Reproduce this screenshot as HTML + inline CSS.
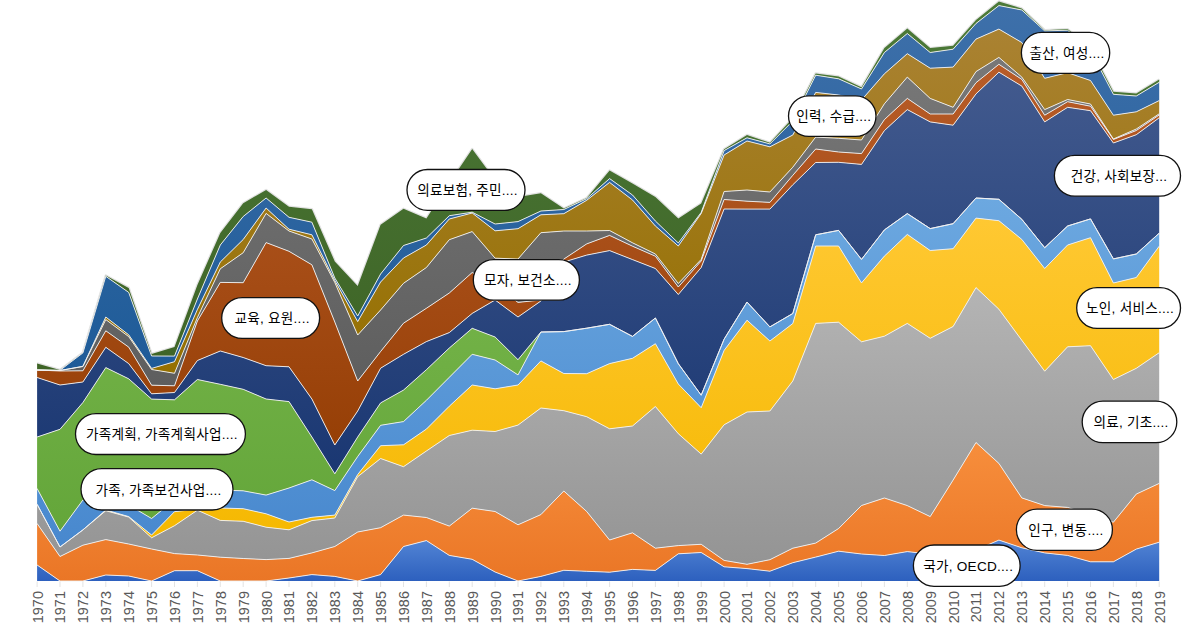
<!DOCTYPE html>
<html lang="ko"><head><meta charset="utf-8"><title>chart</title>
<style>
html,body{margin:0;padding:0;background:#fff;}
body{width:1200px;height:626px;overflow:hidden;}
svg{display:block;}
.yr{font-family:"Liberation Sans","Noto Sans CJK KR",sans-serif;font-size:14.5px;fill:#595959;}
.lb{font-family:"Liberation Sans","Noto Sans CJK KR",sans-serif;font-size:13.6px;font-weight:400;letter-spacing:0.25px;fill:#000;}
</style></head><body>
<svg width="1200" height="626" viewBox="0 0 1200 626">
<defs>
<linearGradient id="g1" x1="0" y1="0" x2="0" y2="1"><stop offset="0" stop-color="#5284d4"/><stop offset="1" stop-color="#2d60be"/></linearGradient>
<linearGradient id="g2" x1="0" y1="0" x2="0" y2="1"><stop offset="0" stop-color="#f78e3c"/><stop offset="1" stop-color="#ea7626"/></linearGradient>
<linearGradient id="g3" x1="0" y1="0" x2="0" y2="1"><stop offset="0" stop-color="#b4b4b4"/><stop offset="1" stop-color="#949494"/></linearGradient>
<linearGradient id="g4" x1="0" y1="0" x2="0" y2="1"><stop offset="0" stop-color="#ffc832"/><stop offset="1" stop-color="#f5b800"/></linearGradient>
<linearGradient id="g5" x1="0" y1="0" x2="0" y2="1"><stop offset="0" stop-color="#6ca8e0"/><stop offset="1" stop-color="#4888ce"/></linearGradient>
<linearGradient id="g6" x1="0" y1="0" x2="0" y2="1"><stop offset="0" stop-color="#7ab84e"/><stop offset="1" stop-color="#64a63a"/></linearGradient>
<linearGradient id="g7" x1="0" y1="0" x2="0" y2="1"><stop offset="0" stop-color="#425a8e"/><stop offset="1" stop-color="#1a3772"/></linearGradient>
<linearGradient id="g8" x1="0" y1="0" x2="0" y2="1"><stop offset="0" stop-color="#b85c28"/><stop offset="1" stop-color="#963f06"/></linearGradient>
<linearGradient id="g9" x1="0" y1="0" x2="0" y2="1"><stop offset="0" stop-color="#787878"/><stop offset="1" stop-color="#5e5e5e"/></linearGradient>
<linearGradient id="g10" x1="0" y1="0" x2="0" y2="1"><stop offset="0" stop-color="#aa8232"/><stop offset="1" stop-color="#957000"/></linearGradient>
<linearGradient id="g11" x1="0" y1="0" x2="0" y2="1"><stop offset="0" stop-color="#3e70aa"/><stop offset="1" stop-color="#1e5b98"/></linearGradient>
<linearGradient id="g12" x1="0" y1="0" x2="0" y2="1"><stop offset="0" stop-color="#4c7a38"/><stop offset="1" stop-color="#3e6426"/></linearGradient>
</defs>
<path d="M37.1 363.5 L60 370 L82.9 352.7 L105.8 275.6 L128.7 287.9 L151.6 353.9 L174.5 347.1 L197.4 285 L220.3 233 L243.2 203.3 L266.1 190 L289 206.8 L311.9 209.2 L334.8 261.5 L357.7 286 L380.6 224.8 L403.5 208.8 L426.4 218.4 L449.3 183 L472.2 149 L495.1 180 L518 197 L540.9 193.2 L563.8 208.6 L586.7 198.1 L609.6 170.6 L632.5 183.5 L655.4 197 L678.3 218.4 L701.2 203.5 L724.1 149.2 L747 134.9 L769.9 142.7 L792.8 118 L815.7 73.4 L838.6 76.5 L861.5 87.2 L884.4 48.1 L907.3 28.6 L930.2 48.1 L953.1 45.8 L976 20.1 L998.9 1.5 L1021.8 8.5 L1044.7 30.2 L1067.6 29.1 L1090.5 48 L1113.4 91.7 L1136.3 93.5 L1159.2 79.4" fill="none" stroke="#e2e2e2" stroke-width="2.4" stroke-linejoin="round"/>
<path d="M37.1 565 L60 581 L82.9 581 L105.8 575 L128.7 576 L151.6 581 L174.5 570.7 L197.4 570.7 L220.3 581 L243.2 581 L266.1 581 L289 578 L311.9 574.6 L334.8 576.4 L357.7 581 L380.6 574.6 L403.5 546.5 L426.4 540.6 L449.3 555.4 L472.2 559.3 L495.1 572 L518 581 L540.9 576.4 L563.8 570.3 L586.7 571.3 L609.6 572.2 L632.5 569.4 L655.4 570.4 L678.3 553.8 L701.2 552.5 L724.1 566.8 L747 568.6 L769.9 571.2 L792.8 562.7 L815.7 557.1 L838.6 551.2 L861.5 554 L884.4 555.5 L907.3 551.6 L930.2 554.2 L953.1 556 L976 550 L998.9 540.1 L1021.8 547.8 L1044.7 552.9 L1067.6 555.4 L1090.5 561.8 L1113.4 561.8 L1136.3 549.1 L1159.2 542.2 L1159.2 581 L1136.3 581 L1113.4 581 L1090.5 581 L1067.6 581 L1044.7 581 L1021.8 581 L998.9 581 L976 581 L953.1 581 L930.2 581 L907.3 581 L884.4 581 L861.5 581 L838.6 581 L815.7 581 L792.8 581 L769.9 581 L747 581 L724.1 581 L701.2 581 L678.3 581 L655.4 581 L632.5 581 L609.6 581 L586.7 581 L563.8 581 L540.9 581 L518 581 L495.1 581 L472.2 581 L449.3 581 L426.4 581 L403.5 581 L380.6 581 L357.7 581 L334.8 581 L311.9 581 L289 581 L266.1 581 L243.2 581 L220.3 581 L197.4 581 L174.5 581 L151.6 581 L128.7 581 L105.8 581 L82.9 581 L60 581 L37.1 581 Z" fill="url(#g1)"/>
<path d="M37.1 523.5 L60 556.5 L82.9 545.2 L105.8 539.6 L128.7 544 L151.6 549 L174.5 553.6 L197.4 555 L220.3 557.2 L243.2 558.5 L266.1 559.6 L289 558.4 L311.9 552.9 L334.8 546.5 L357.7 532 L380.6 527.7 L403.5 515.1 L426.4 517.5 L449.3 526.1 L472.2 508.2 L495.1 511.5 L518 524.8 L540.9 514.6 L563.8 491 L586.7 511.5 L609.6 540 L632.5 532.8 L655.4 548.2 L678.3 545.6 L701.2 544.3 L724.1 560.4 L747 564.3 L769.9 559.7 L792.8 548.2 L815.7 543.1 L838.6 528.5 L861.5 505.5 L884.4 498 L907.3 505.6 L930.2 516.6 L953.1 480.1 L976 442.5 L998.9 463.4 L1021.8 497.9 L1044.7 505.6 L1067.6 507.4 L1090.5 515 L1113.4 522.2 L1136.3 494.1 L1159.2 483.4 L1159.2 542.2 L1136.3 549.1 L1113.4 561.8 L1090.5 561.8 L1067.6 555.4 L1044.7 552.9 L1021.8 547.8 L998.9 540.1 L976 550 L953.1 556 L930.2 554.2 L907.3 551.6 L884.4 555.5 L861.5 554 L838.6 551.2 L815.7 557.1 L792.8 562.7 L769.9 571.2 L747 568.6 L724.1 566.8 L701.2 552.5 L678.3 553.8 L655.4 570.4 L632.5 569.4 L609.6 572.2 L586.7 571.3 L563.8 570.3 L540.9 576.4 L518 581 L495.1 572 L472.2 559.3 L449.3 555.4 L426.4 540.6 L403.5 546.5 L380.6 574.6 L357.7 581 L334.8 576.4 L311.9 574.6 L289 578 L266.1 581 L243.2 581 L220.3 581 L197.4 570.7 L174.5 570.7 L151.6 581 L128.7 576 L105.8 575 L82.9 581 L60 581 L37.1 565 Z" fill="url(#g2)"/>
<path d="M37.1 504.3 L60 547 L82.9 529.9 L105.8 510.7 L128.7 517.1 L151.6 537.8 L174.5 525.7 L197.4 510.2 L220.3 520.4 L243.2 521.3 L266.1 527.2 L289 529.8 L311.9 520.6 L334.8 518 L357.7 476.7 L380.6 458.5 L403.5 466.7 L426.4 451 L449.3 435.5 L472.2 430.2 L495.1 431.5 L518 425.1 L540.9 408 L563.8 410.7 L586.7 416.7 L609.6 428.8 L632.5 426 L655.4 406.5 L678.3 433.7 L701.2 454.1 L724.1 424.8 L747 412 L769.9 411 L792.8 381 L815.7 323.4 L838.6 322.2 L861.5 341.8 L884.4 336.2 L907.3 323.4 L930.2 338.3 L953.1 326.5 L976 287.6 L998.9 309.2 L1021.8 340.3 L1044.7 371.2 L1067.6 346.8 L1090.5 345.7 L1113.4 379.5 L1136.3 368.3 L1159.2 352.7 L1159.2 483.4 L1136.3 494.1 L1113.4 522.2 L1090.5 515 L1067.6 507.4 L1044.7 505.6 L1021.8 497.9 L998.9 463.4 L976 442.5 L953.1 480.1 L930.2 516.6 L907.3 505.6 L884.4 498 L861.5 505.5 L838.6 528.5 L815.7 543.1 L792.8 548.2 L769.9 559.7 L747 564.3 L724.1 560.4 L701.2 544.3 L678.3 545.6 L655.4 548.2 L632.5 532.8 L609.6 540 L586.7 511.5 L563.8 491 L540.9 514.6 L518 524.8 L495.1 511.5 L472.2 508.2 L449.3 526.1 L426.4 517.5 L403.5 515.1 L380.6 527.7 L357.7 532 L334.8 546.5 L311.9 552.9 L289 558.4 L266.1 559.6 L243.2 558.5 L220.3 557.2 L197.4 555 L174.5 553.6 L151.6 549 L128.7 544 L105.8 539.6 L82.9 545.2 L60 556.5 L37.1 523.5 Z" fill="url(#g3)"/>
<path d="M37.1 504.3 L60 547 L82.9 529.9 L105.8 510 L128.7 516.6 L151.6 535 L174.5 511.7 L197.4 509 L220.3 508 L243.2 508.7 L266.1 513.8 L289 522 L311.9 517.3 L334.8 515.1 L357.7 474.5 L380.6 445.7 L403.5 444.8 L426.4 429.1 L449.3 406.2 L472.2 385 L495.1 388.8 L518 385 L540.9 360.9 L563.8 373.5 L586.7 373.7 L609.6 363.6 L632.5 358.3 L655.4 343.7 L678.3 384 L701.2 407.7 L724.1 350.4 L747 320.2 L769.9 341 L792.8 323.5 L815.7 246 L838.6 246 L861.5 282.9 L884.4 256.1 L907.3 234.4 L930.2 250.5 L953.1 248.7 L976 218.1 L998.9 220.7 L1021.8 239.4 L1044.7 268.5 L1067.6 245 L1090.5 237.7 L1113.4 283 L1136.3 277.5 L1159.2 246.2 L1159.2 352.7 L1136.3 368.3 L1113.4 379.5 L1090.5 345.7 L1067.6 346.8 L1044.7 371.2 L1021.8 340.3 L998.9 309.2 L976 287.6 L953.1 326.5 L930.2 338.3 L907.3 323.4 L884.4 336.2 L861.5 341.8 L838.6 322.2 L815.7 323.4 L792.8 381 L769.9 411 L747 412 L724.1 424.8 L701.2 454.1 L678.3 433.7 L655.4 406.5 L632.5 426 L609.6 428.8 L586.7 416.7 L563.8 410.7 L540.9 408 L518 425.1 L495.1 431.5 L472.2 430.2 L449.3 435.5 L426.4 451 L403.5 466.7 L380.6 458.5 L357.7 476.7 L334.8 518 L311.9 520.6 L289 529.8 L266.1 527.2 L243.2 521.3 L220.3 520.4 L197.4 510.2 L174.5 525.7 L151.6 537.8 L128.7 517.1 L105.8 510.7 L82.9 529.9 L60 547 L37.1 504.3 Z" fill="url(#g4)"/>
<path d="M37.1 488.5 L60 531.2 L82.9 500 L105.8 495 L128.7 505 L151.6 518.5 L174.5 500 L197.4 492 L220.3 490 L243.2 490.8 L266.1 495.1 L289 488 L311.9 479.8 L334.8 490.6 L357.7 456.5 L380.6 425.3 L403.5 421.6 L426.4 400.3 L449.3 377.3 L472.2 354.3 L495.1 360 L518 374.9 L540.9 332 L563.8 331.6 L586.7 328.2 L609.6 324.3 L632.5 336.4 L655.4 318 L678.3 363.7 L701.2 395.2 L724.1 339.2 L747 302.1 L769.9 326.9 L792.8 313.5 L815.7 234.8 L838.6 230.4 L861.5 259.4 L884.4 229.9 L907.3 213.6 L930.2 228.6 L953.1 223.7 L976 198 L998.9 199.3 L1021.8 219.3 L1044.7 247.7 L1067.6 226 L1090.5 218.9 L1113.4 258.9 L1136.3 254 L1159.2 233.2 L1159.2 246.2 L1136.3 277.5 L1113.4 283 L1090.5 237.7 L1067.6 245 L1044.7 268.5 L1021.8 239.4 L998.9 220.7 L976 218.1 L953.1 248.7 L930.2 250.5 L907.3 234.4 L884.4 256.1 L861.5 282.9 L838.6 246 L815.7 246 L792.8 323.5 L769.9 341 L747 320.2 L724.1 350.4 L701.2 407.7 L678.3 384 L655.4 343.7 L632.5 358.3 L609.6 363.6 L586.7 373.7 L563.8 373.5 L540.9 360.9 L518 385 L495.1 388.8 L472.2 385 L449.3 406.2 L426.4 429.1 L403.5 444.8 L380.6 445.7 L357.7 474.5 L334.8 515.1 L311.9 517.3 L289 522 L266.1 513.8 L243.2 508.7 L220.3 508 L197.4 509 L174.5 511.7 L151.6 535 L128.7 516.6 L105.8 510 L82.9 529.9 L60 547 L37.1 504.3 Z" fill="url(#g5)"/>
<path d="M37.1 437 L60 429.3 L82.9 402.5 L105.8 367.6 L128.7 378.8 L151.6 399.1 L174.5 399.8 L197.4 379.5 L220.3 384.3 L243.2 389.3 L266.1 399 L289 401.6 L311.9 437 L334.8 473.8 L357.7 437 L380.6 402.9 L403.5 390.1 L426.4 369.7 L449.3 348 L472.2 328.3 L495.1 337 L518 359.7 L540.9 332 L563.8 331.6 L586.7 328.2 L609.6 324.3 L632.5 336.4 L655.4 318 L678.3 363.7 L701.2 395.2 L724.1 339.2 L747 302.1 L769.9 326.9 L792.8 313.5 L815.7 234.8 L838.6 230.4 L861.5 259.4 L884.4 229.9 L907.3 213.6 L930.2 228.6 L953.1 223.7 L976 198 L998.9 199.3 L1021.8 219.3 L1044.7 247.7 L1067.6 226 L1090.5 218.9 L1113.4 258.9 L1136.3 254 L1159.2 233.2 L1159.2 233.2 L1136.3 254 L1113.4 258.9 L1090.5 218.9 L1067.6 226 L1044.7 247.7 L1021.8 219.3 L998.9 199.3 L976 198 L953.1 223.7 L930.2 228.6 L907.3 213.6 L884.4 229.9 L861.5 259.4 L838.6 230.4 L815.7 234.8 L792.8 313.5 L769.9 326.9 L747 302.1 L724.1 339.2 L701.2 395.2 L678.3 363.7 L655.4 318 L632.5 336.4 L609.6 324.3 L586.7 328.2 L563.8 331.6 L540.9 332 L518 374.9 L495.1 360 L472.2 354.3 L449.3 377.3 L426.4 400.3 L403.5 421.6 L380.6 425.3 L357.7 456.5 L334.8 490.6 L311.9 479.8 L289 488 L266.1 495.1 L243.2 490.8 L220.3 490 L197.4 492 L174.5 500 L151.6 518.5 L128.7 505 L105.8 495 L82.9 500 L60 531.2 L37.1 488.5 Z" fill="url(#g6)"/>
<path d="M37.1 377.5 L60 385 L82.9 382 L105.8 347.3 L128.7 363.6 L151.6 393.8 L174.5 392.5 L197.4 360.5 L220.3 351 L243.2 357.5 L266.1 365.7 L289 366.8 L311.9 399 L334.8 445 L357.7 411 L380.6 368.2 L403.5 354.3 L426.4 341.6 L449.3 332.6 L472.2 313.4 L495.1 300 L518 317 L540.9 301 L563.8 262 L586.7 255.1 L609.6 250.6 L632.5 259.6 L655.4 268.5 L678.3 294.5 L701.2 267.5 L724.1 209 L747 209.1 L769.9 209.1 L792.8 184.8 L815.7 162.5 L838.6 162.3 L861.5 164.4 L884.4 130.6 L907.3 109.6 L930.2 121.9 L953.1 125.2 L976 93.9 L998.9 72.2 L1021.8 86.1 L1044.7 121.9 L1067.6 107.3 L1090.5 110.7 L1113.4 143 L1136.3 134.7 L1159.2 117.8 L1159.2 233.2 L1136.3 254 L1113.4 258.9 L1090.5 218.9 L1067.6 226 L1044.7 247.7 L1021.8 219.3 L998.9 199.3 L976 198 L953.1 223.7 L930.2 228.6 L907.3 213.6 L884.4 229.9 L861.5 259.4 L838.6 230.4 L815.7 234.8 L792.8 313.5 L769.9 326.9 L747 302.1 L724.1 339.2 L701.2 395.2 L678.3 363.7 L655.4 318 L632.5 336.4 L609.6 324.3 L586.7 328.2 L563.8 331.6 L540.9 332 L518 359.7 L495.1 337 L472.2 328.3 L449.3 348 L426.4 369.7 L403.5 390.1 L380.6 402.9 L357.7 437 L334.8 473.8 L311.9 437 L289 401.6 L266.1 399 L243.2 389.3 L220.3 384.3 L197.4 379.5 L174.5 399.8 L151.6 399.1 L128.7 378.8 L105.8 367.6 L82.9 402.5 L60 429.3 L37.1 437 Z" fill="url(#g7)"/>
<path d="M37.1 370 L60 371 L82.9 370.8 L105.8 330.8 L128.7 347.1 L151.6 385.2 L174.5 385.8 L197.4 321 L220.3 282.4 L243.2 282.7 L266.1 242.6 L289 251.3 L311.9 264.8 L334.8 322 L357.7 381 L380.6 351.5 L403.5 323.2 L426.4 308.3 L449.3 293 L472.2 272.5 L495.1 285 L518 302.4 L540.9 300 L563.8 259.1 L586.7 243.9 L609.6 235.4 L632.5 246.2 L655.4 256.2 L678.3 287 L701.2 261 L724.1 199.5 L747 201.2 L769.9 202.4 L792.8 175.3 L815.7 149 L838.6 152 L861.5 153.6 L884.4 119.6 L907.3 98.4 L930.2 114 L953.1 114 L976 82.7 L998.9 64.3 L1021.8 79.4 L1044.7 115.2 L1067.6 101.7 L1090.5 106.2 L1113.4 139.5 L1136.3 130.5 L1159.2 115 L1159.2 117.8 L1136.3 134.7 L1113.4 143 L1090.5 110.7 L1067.6 107.3 L1044.7 121.9 L1021.8 86.1 L998.9 72.2 L976 93.9 L953.1 125.2 L930.2 121.9 L907.3 109.6 L884.4 130.6 L861.5 164.4 L838.6 162.3 L815.7 162.5 L792.8 184.8 L769.9 209.1 L747 209.1 L724.1 209 L701.2 267.5 L678.3 294.5 L655.4 268.5 L632.5 259.6 L609.6 250.6 L586.7 255.1 L563.8 262 L540.9 301 L518 317 L495.1 300 L472.2 313.4 L449.3 332.6 L426.4 341.6 L403.5 354.3 L380.6 368.2 L357.7 411 L334.8 445 L311.9 399 L289 366.8 L266.1 365.7 L243.2 357.5 L220.3 351 L197.4 360.5 L174.5 392.5 L151.6 393.8 L128.7 363.6 L105.8 347.3 L82.9 382 L60 385 L37.1 377.5 Z" fill="url(#g8)"/>
<path d="M37.1 370 L60 370.5 L82.9 366.5 L105.8 319.6 L128.7 336.6 L151.6 369.5 L174.5 373.3 L197.4 317.5 L220.3 268.8 L243.2 252.7 L266.1 213.4 L289 231 L311.9 239 L334.8 282.5 L357.7 335 L380.6 310 L403.5 283.3 L426.4 267.5 L449.3 239.7 L472.2 231.6 L495.1 258.2 L518 259 L540.9 232.7 L563.8 231 L586.7 231 L609.6 230.5 L632.5 242.8 L655.4 254 L678.3 283.5 L701.2 259.4 L724.1 191.5 L747 190 L769.9 192 L792.8 167.2 L815.7 137.1 L838.6 138.3 L861.5 140 L884.4 103.8 L907.3 77.1 L930.2 98.4 L953.1 107.3 L976 71.6 L998.9 57.4 L1021.8 77.1 L1044.7 109.6 L1067.6 99.5 L1090.5 104 L1113.4 139 L1136.3 129 L1159.2 113.8 L1159.2 115 L1136.3 130.5 L1113.4 139.5 L1090.5 106.2 L1067.6 101.7 L1044.7 115.2 L1021.8 79.4 L998.9 64.3 L976 82.7 L953.1 114 L930.2 114 L907.3 98.4 L884.4 119.6 L861.5 153.6 L838.6 152 L815.7 149 L792.8 175.3 L769.9 202.4 L747 201.2 L724.1 199.5 L701.2 261 L678.3 287 L655.4 256.2 L632.5 246.2 L609.6 235.4 L586.7 243.9 L563.8 259.1 L540.9 300 L518 302.4 L495.1 285 L472.2 272.5 L449.3 293 L426.4 308.3 L403.5 323.2 L380.6 351.5 L357.7 381 L334.8 322 L311.9 264.8 L289 251.3 L266.1 242.6 L243.2 282.7 L220.3 282.4 L197.4 321 L174.5 385.8 L151.6 385.2 L128.7 347.1 L105.8 330.8 L82.9 370.8 L60 371 L37.1 370 Z" fill="url(#g9)"/>
<path d="M37.1 370 L60 370.5 L82.9 366.3 L105.8 317 L128.7 334.8 L151.6 368.4 L174.5 361.7 L197.4 309.5 L220.3 262 L243.2 239.5 L266.1 208 L289 229.2 L311.9 234.8 L334.8 280.5 L357.7 321.6 L380.6 282 L403.5 258 L426.4 245 L449.3 219 L472.2 213 L495.1 230.8 L518 228.7 L540.9 214.8 L563.8 213.7 L586.7 200.3 L609.6 182.4 L632.5 200 L655.4 226 L678.3 246 L701.2 213.5 L724.1 155 L747 141 L769.9 146.8 L792.8 135 L815.7 92.4 L838.6 95 L861.5 100 L884.4 73.8 L907.3 53.7 L930.2 68.2 L953.1 67.1 L976 39.1 L998.9 29.1 L1021.8 42.5 L1044.7 78.3 L1067.6 72.7 L1090.5 80.5 L1113.4 115.2 L1136.3 111.8 L1159.2 100.6 L1159.2 113.8 L1136.3 129 L1113.4 139 L1090.5 104 L1067.6 99.5 L1044.7 109.6 L1021.8 77.1 L998.9 57.4 L976 71.6 L953.1 107.3 L930.2 98.4 L907.3 77.1 L884.4 103.8 L861.5 140 L838.6 138.3 L815.7 137.1 L792.8 167.2 L769.9 192 L747 190 L724.1 191.5 L701.2 259.4 L678.3 283.5 L655.4 254 L632.5 242.8 L609.6 230.5 L586.7 231 L563.8 231 L540.9 232.7 L518 259 L495.1 258.2 L472.2 231.6 L449.3 239.7 L426.4 267.5 L403.5 283.3 L380.6 310 L357.7 335 L334.8 282.5 L311.9 239 L289 231 L266.1 213.4 L243.2 252.7 L220.3 268.8 L197.4 317.5 L174.5 373.3 L151.6 369.5 L128.7 336.6 L105.8 319.6 L82.9 366.5 L60 370.5 L37.1 370 Z" fill="url(#g10)"/>
<path d="M37.1 370 L60 370.3 L82.9 352.9 L105.8 276.3 L128.7 292.4 L151.6 356 L174.5 356.1 L197.4 299 L220.3 245 L243.2 216.5 L266.1 198 L289 217.3 L311.9 222.2 L334.8 278 L357.7 316 L380.6 274 L403.5 245.5 L426.4 238 L449.3 215.7 L472.2 212.2 L495.1 224 L518 221.6 L540.9 211 L563.8 209.5 L586.7 198.7 L609.6 178.6 L632.5 195 L655.4 221 L678.3 243 L701.2 212.4 L724.1 150.6 L747 137.8 L769.9 143.9 L792.8 121 L815.7 75.2 L838.6 78.8 L861.5 89 L884.4 52.5 L907.3 33.5 L930.2 52.5 L953.1 49.2 L976 23.5 L998.9 5.6 L1021.8 10 L1044.7 30.9 L1067.6 30.2 L1090.5 50.5 L1113.4 94.3 L1136.3 96 L1159.2 82.3 L1159.2 100.6 L1136.3 111.8 L1113.4 115.2 L1090.5 80.5 L1067.6 72.7 L1044.7 78.3 L1021.8 42.5 L998.9 29.1 L976 39.1 L953.1 67.1 L930.2 68.2 L907.3 53.7 L884.4 73.8 L861.5 100 L838.6 95 L815.7 92.4 L792.8 135 L769.9 146.8 L747 141 L724.1 155 L701.2 213.5 L678.3 246 L655.4 226 L632.5 200 L609.6 182.4 L586.7 200.3 L563.8 213.7 L540.9 214.8 L518 228.7 L495.1 230.8 L472.2 213 L449.3 219 L426.4 245 L403.5 258 L380.6 282 L357.7 321.6 L334.8 280.5 L311.9 234.8 L289 229.2 L266.1 208 L243.2 239.5 L220.3 262 L197.4 309.5 L174.5 361.7 L151.6 368.4 L128.7 334.8 L105.8 317 L82.9 366.3 L60 370.5 L37.1 370 Z" fill="url(#g11)"/>
<path d="M37.1 363.5 L60 370 L82.9 352.7 L105.8 275.6 L128.7 287.9 L151.6 353.9 L174.5 347.1 L197.4 285 L220.3 233 L243.2 203.3 L266.1 190 L289 206.8 L311.9 209.2 L334.8 261.5 L357.7 286 L380.6 224.8 L403.5 208.8 L426.4 218.4 L449.3 183 L472.2 149 L495.1 180 L518 197 L540.9 193.2 L563.8 208.6 L586.7 198.1 L609.6 170.6 L632.5 183.5 L655.4 197 L678.3 218.4 L701.2 203.5 L724.1 149.2 L747 134.9 L769.9 142.7 L792.8 118 L815.7 73.4 L838.6 76.5 L861.5 87.2 L884.4 48.1 L907.3 28.6 L930.2 48.1 L953.1 45.8 L976 20.1 L998.9 1.5 L1021.8 8.5 L1044.7 30.2 L1067.6 29.1 L1090.5 48 L1113.4 91.7 L1136.3 93.5 L1159.2 79.4 L1159.2 82.3 L1136.3 96 L1113.4 94.3 L1090.5 50.5 L1067.6 30.2 L1044.7 30.9 L1021.8 10 L998.9 5.6 L976 23.5 L953.1 49.2 L930.2 52.5 L907.3 33.5 L884.4 52.5 L861.5 89 L838.6 78.8 L815.7 75.2 L792.8 121 L769.9 143.9 L747 137.8 L724.1 150.6 L701.2 212.4 L678.3 243 L655.4 221 L632.5 195 L609.6 178.6 L586.7 198.7 L563.8 209.5 L540.9 211 L518 221.6 L495.1 224 L472.2 212.2 L449.3 215.7 L426.4 238 L403.5 245.5 L380.6 274 L357.7 316 L334.8 278 L311.9 222.2 L289 217.3 L266.1 198 L243.2 216.5 L220.3 245 L197.4 299 L174.5 356.1 L151.6 356 L128.7 292.4 L105.8 276.3 L82.9 352.9 L60 370.3 L37.1 370 Z" fill="url(#g12)"/>
<path d="M37.1 565 L60 581 L82.9 581 L105.8 575 L128.7 576 L151.6 581 L174.5 570.7 L197.4 570.7 L220.3 581 L243.2 581 L266.1 581 L289 578 L311.9 574.6 L334.8 576.4 L357.7 581 L380.6 574.6 L403.5 546.5 L426.4 540.6 L449.3 555.4 L472.2 559.3 L495.1 572 L518 581 L540.9 576.4 L563.8 570.3 L586.7 571.3 L609.6 572.2 L632.5 569.4 L655.4 570.4 L678.3 553.8 L701.2 552.5 L724.1 566.8 L747 568.6 L769.9 571.2 L792.8 562.7 L815.7 557.1 L838.6 551.2 L861.5 554 L884.4 555.5 L907.3 551.6 L930.2 554.2 L953.1 556 L976 550 L998.9 540.1 L1021.8 547.8 L1044.7 552.9 L1067.6 555.4 L1090.5 561.8 L1113.4 561.8 L1136.3 549.1 L1159.2 542.2" fill="none" stroke="#f2f2f2" stroke-width="0.9" stroke-linejoin="round"/>
<path d="M37.1 523.5 L60 556.5 L82.9 545.2 L105.8 539.6 L128.7 544 L151.6 549 L174.5 553.6 L197.4 555 L220.3 557.2 L243.2 558.5 L266.1 559.6 L289 558.4 L311.9 552.9 L334.8 546.5 L357.7 532 L380.6 527.7 L403.5 515.1 L426.4 517.5 L449.3 526.1 L472.2 508.2 L495.1 511.5 L518 524.8 L540.9 514.6 L563.8 491 L586.7 511.5 L609.6 540 L632.5 532.8 L655.4 548.2 L678.3 545.6 L701.2 544.3 L724.1 560.4 L747 564.3 L769.9 559.7 L792.8 548.2 L815.7 543.1 L838.6 528.5 L861.5 505.5 L884.4 498 L907.3 505.6 L930.2 516.6 L953.1 480.1 L976 442.5 L998.9 463.4 L1021.8 497.9 L1044.7 505.6 L1067.6 507.4 L1090.5 515 L1113.4 522.2 L1136.3 494.1 L1159.2 483.4" fill="none" stroke="#f2f2f2" stroke-width="0.9" stroke-linejoin="round"/>
<path d="M37.1 504.3 L60 547 L82.9 529.9 L105.8 510.7 L128.7 517.1 L151.6 537.8 L174.5 525.7 L197.4 510.2 L220.3 520.4 L243.2 521.3 L266.1 527.2 L289 529.8 L311.9 520.6 L334.8 518 L357.7 476.7 L380.6 458.5 L403.5 466.7 L426.4 451 L449.3 435.5 L472.2 430.2 L495.1 431.5 L518 425.1 L540.9 408 L563.8 410.7 L586.7 416.7 L609.6 428.8 L632.5 426 L655.4 406.5 L678.3 433.7 L701.2 454.1 L724.1 424.8 L747 412 L769.9 411 L792.8 381 L815.7 323.4 L838.6 322.2 L861.5 341.8 L884.4 336.2 L907.3 323.4 L930.2 338.3 L953.1 326.5 L976 287.6 L998.9 309.2 L1021.8 340.3 L1044.7 371.2 L1067.6 346.8 L1090.5 345.7 L1113.4 379.5 L1136.3 368.3 L1159.2 352.7" fill="none" stroke="#f2f2f2" stroke-width="0.9" stroke-linejoin="round"/>
<path d="M37.1 504.3 L60 547 L82.9 529.9 L105.8 510 L128.7 516.6 L151.6 535 L174.5 511.7 L197.4 509 L220.3 508 L243.2 508.7 L266.1 513.8 L289 522 L311.9 517.3 L334.8 515.1 L357.7 474.5 L380.6 445.7 L403.5 444.8 L426.4 429.1 L449.3 406.2 L472.2 385 L495.1 388.8 L518 385 L540.9 360.9 L563.8 373.5 L586.7 373.7 L609.6 363.6 L632.5 358.3 L655.4 343.7 L678.3 384 L701.2 407.7 L724.1 350.4 L747 320.2 L769.9 341 L792.8 323.5 L815.7 246 L838.6 246 L861.5 282.9 L884.4 256.1 L907.3 234.4 L930.2 250.5 L953.1 248.7 L976 218.1 L998.9 220.7 L1021.8 239.4 L1044.7 268.5 L1067.6 245 L1090.5 237.7 L1113.4 283 L1136.3 277.5 L1159.2 246.2" fill="none" stroke="#f2f2f2" stroke-width="0.9" stroke-linejoin="round"/>
<path d="M37.1 488.5 L60 531.2 L82.9 500 L105.8 495 L128.7 505 L151.6 518.5 L174.5 500 L197.4 492 L220.3 490 L243.2 490.8 L266.1 495.1 L289 488 L311.9 479.8 L334.8 490.6 L357.7 456.5 L380.6 425.3 L403.5 421.6 L426.4 400.3 L449.3 377.3 L472.2 354.3 L495.1 360 L518 374.9 L540.9 332 L563.8 331.6 L586.7 328.2 L609.6 324.3 L632.5 336.4 L655.4 318 L678.3 363.7 L701.2 395.2 L724.1 339.2 L747 302.1 L769.9 326.9 L792.8 313.5 L815.7 234.8 L838.6 230.4 L861.5 259.4 L884.4 229.9 L907.3 213.6 L930.2 228.6 L953.1 223.7 L976 198 L998.9 199.3 L1021.8 219.3 L1044.7 247.7 L1067.6 226 L1090.5 218.9 L1113.4 258.9 L1136.3 254 L1159.2 233.2" fill="none" stroke="#f2f2f2" stroke-width="0.9" stroke-linejoin="round"/>
<path d="M37.1 437 L60 429.3 L82.9 402.5 L105.8 367.6 L128.7 378.8 L151.6 399.1 L174.5 399.8 L197.4 379.5 L220.3 384.3 L243.2 389.3 L266.1 399 L289 401.6 L311.9 437 L334.8 473.8 L357.7 437 L380.6 402.9 L403.5 390.1 L426.4 369.7 L449.3 348 L472.2 328.3 L495.1 337 L518 359.7 L540.9 332 L563.8 331.6 L586.7 328.2 L609.6 324.3 L632.5 336.4 L655.4 318 L678.3 363.7 L701.2 395.2 L724.1 339.2 L747 302.1 L769.9 326.9 L792.8 313.5 L815.7 234.8 L838.6 230.4 L861.5 259.4 L884.4 229.9 L907.3 213.6 L930.2 228.6 L953.1 223.7 L976 198 L998.9 199.3 L1021.8 219.3 L1044.7 247.7 L1067.6 226 L1090.5 218.9 L1113.4 258.9 L1136.3 254 L1159.2 233.2" fill="none" stroke="#f2f2f2" stroke-width="0.9" stroke-linejoin="round"/>
<path d="M37.1 377.5 L60 385 L82.9 382 L105.8 347.3 L128.7 363.6 L151.6 393.8 L174.5 392.5 L197.4 360.5 L220.3 351 L243.2 357.5 L266.1 365.7 L289 366.8 L311.9 399 L334.8 445 L357.7 411 L380.6 368.2 L403.5 354.3 L426.4 341.6 L449.3 332.6 L472.2 313.4 L495.1 300 L518 317 L540.9 301 L563.8 262 L586.7 255.1 L609.6 250.6 L632.5 259.6 L655.4 268.5 L678.3 294.5 L701.2 267.5 L724.1 209 L747 209.1 L769.9 209.1 L792.8 184.8 L815.7 162.5 L838.6 162.3 L861.5 164.4 L884.4 130.6 L907.3 109.6 L930.2 121.9 L953.1 125.2 L976 93.9 L998.9 72.2 L1021.8 86.1 L1044.7 121.9 L1067.6 107.3 L1090.5 110.7 L1113.4 143 L1136.3 134.7 L1159.2 117.8" fill="none" stroke="#f2f2f2" stroke-width="0.9" stroke-linejoin="round"/>
<path d="M37.1 370 L60 371 L82.9 370.8 L105.8 330.8 L128.7 347.1 L151.6 385.2 L174.5 385.8 L197.4 321 L220.3 282.4 L243.2 282.7 L266.1 242.6 L289 251.3 L311.9 264.8 L334.8 322 L357.7 381 L380.6 351.5 L403.5 323.2 L426.4 308.3 L449.3 293 L472.2 272.5 L495.1 285 L518 302.4 L540.9 300 L563.8 259.1 L586.7 243.9 L609.6 235.4 L632.5 246.2 L655.4 256.2 L678.3 287 L701.2 261 L724.1 199.5 L747 201.2 L769.9 202.4 L792.8 175.3 L815.7 149 L838.6 152 L861.5 153.6 L884.4 119.6 L907.3 98.4 L930.2 114 L953.1 114 L976 82.7 L998.9 64.3 L1021.8 79.4 L1044.7 115.2 L1067.6 101.7 L1090.5 106.2 L1113.4 139.5 L1136.3 130.5 L1159.2 115" fill="none" stroke="#f2f2f2" stroke-width="0.9" stroke-linejoin="round"/>
<path d="M37.1 370 L60 370.5 L82.9 366.5 L105.8 319.6 L128.7 336.6 L151.6 369.5 L174.5 373.3 L197.4 317.5 L220.3 268.8 L243.2 252.7 L266.1 213.4 L289 231 L311.9 239 L334.8 282.5 L357.7 335 L380.6 310 L403.5 283.3 L426.4 267.5 L449.3 239.7 L472.2 231.6 L495.1 258.2 L518 259 L540.9 232.7 L563.8 231 L586.7 231 L609.6 230.5 L632.5 242.8 L655.4 254 L678.3 283.5 L701.2 259.4 L724.1 191.5 L747 190 L769.9 192 L792.8 167.2 L815.7 137.1 L838.6 138.3 L861.5 140 L884.4 103.8 L907.3 77.1 L930.2 98.4 L953.1 107.3 L976 71.6 L998.9 57.4 L1021.8 77.1 L1044.7 109.6 L1067.6 99.5 L1090.5 104 L1113.4 139 L1136.3 129 L1159.2 113.8" fill="none" stroke="#f2f2f2" stroke-width="0.9" stroke-linejoin="round"/>
<path d="M37.1 370 L60 370.5 L82.9 366.3 L105.8 317 L128.7 334.8 L151.6 368.4 L174.5 361.7 L197.4 309.5 L220.3 262 L243.2 239.5 L266.1 208 L289 229.2 L311.9 234.8 L334.8 280.5 L357.7 321.6 L380.6 282 L403.5 258 L426.4 245 L449.3 219 L472.2 213 L495.1 230.8 L518 228.7 L540.9 214.8 L563.8 213.7 L586.7 200.3 L609.6 182.4 L632.5 200 L655.4 226 L678.3 246 L701.2 213.5 L724.1 155 L747 141 L769.9 146.8 L792.8 135 L815.7 92.4 L838.6 95 L861.5 100 L884.4 73.8 L907.3 53.7 L930.2 68.2 L953.1 67.1 L976 39.1 L998.9 29.1 L1021.8 42.5 L1044.7 78.3 L1067.6 72.7 L1090.5 80.5 L1113.4 115.2 L1136.3 111.8 L1159.2 100.6" fill="none" stroke="#f2f2f2" stroke-width="0.9" stroke-linejoin="round"/>
<path d="M37.1 370 L60 370.3 L82.9 352.9 L105.8 276.3 L128.7 292.4 L151.6 356 L174.5 356.1 L197.4 299 L220.3 245 L243.2 216.5 L266.1 198 L289 217.3 L311.9 222.2 L334.8 278 L357.7 316 L380.6 274 L403.5 245.5 L426.4 238 L449.3 215.7 L472.2 212.2 L495.1 224 L518 221.6 L540.9 211 L563.8 209.5 L586.7 198.7 L609.6 178.6 L632.5 195 L655.4 221 L678.3 243 L701.2 212.4 L724.1 150.6 L747 137.8 L769.9 143.9 L792.8 121 L815.7 75.2 L838.6 78.8 L861.5 89 L884.4 52.5 L907.3 33.5 L930.2 52.5 L953.1 49.2 L976 23.5 L998.9 5.6 L1021.8 10 L1044.7 30.9 L1067.6 30.2 L1090.5 50.5 L1113.4 94.3 L1136.3 96 L1159.2 82.3" fill="none" stroke="#f2f2f2" stroke-width="0.9" stroke-linejoin="round"/>
<line x1="37.1" y1="581.5" x2="37.1" y2="587" stroke="#d9d9d9" stroke-width="0.75"/>
<line x1="60" y1="581.5" x2="60" y2="587" stroke="#d9d9d9" stroke-width="0.75"/>
<line x1="82.9" y1="581.5" x2="82.9" y2="587" stroke="#d9d9d9" stroke-width="0.75"/>
<line x1="105.8" y1="581.5" x2="105.8" y2="587" stroke="#d9d9d9" stroke-width="0.75"/>
<line x1="128.7" y1="581.5" x2="128.7" y2="587" stroke="#d9d9d9" stroke-width="0.75"/>
<line x1="151.6" y1="581.5" x2="151.6" y2="587" stroke="#d9d9d9" stroke-width="0.75"/>
<line x1="174.5" y1="581.5" x2="174.5" y2="587" stroke="#d9d9d9" stroke-width="0.75"/>
<line x1="197.4" y1="581.5" x2="197.4" y2="587" stroke="#d9d9d9" stroke-width="0.75"/>
<line x1="220.3" y1="581.5" x2="220.3" y2="587" stroke="#d9d9d9" stroke-width="0.75"/>
<line x1="243.2" y1="581.5" x2="243.2" y2="587" stroke="#d9d9d9" stroke-width="0.75"/>
<line x1="266.1" y1="581.5" x2="266.1" y2="587" stroke="#d9d9d9" stroke-width="0.75"/>
<line x1="289" y1="581.5" x2="289" y2="587" stroke="#d9d9d9" stroke-width="0.75"/>
<line x1="311.9" y1="581.5" x2="311.9" y2="587" stroke="#d9d9d9" stroke-width="0.75"/>
<line x1="334.8" y1="581.5" x2="334.8" y2="587" stroke="#d9d9d9" stroke-width="0.75"/>
<line x1="357.7" y1="581.5" x2="357.7" y2="587" stroke="#d9d9d9" stroke-width="0.75"/>
<line x1="380.6" y1="581.5" x2="380.6" y2="587" stroke="#d9d9d9" stroke-width="0.75"/>
<line x1="403.5" y1="581.5" x2="403.5" y2="587" stroke="#d9d9d9" stroke-width="0.75"/>
<line x1="426.4" y1="581.5" x2="426.4" y2="587" stroke="#d9d9d9" stroke-width="0.75"/>
<line x1="449.3" y1="581.5" x2="449.3" y2="587" stroke="#d9d9d9" stroke-width="0.75"/>
<line x1="472.2" y1="581.5" x2="472.2" y2="587" stroke="#d9d9d9" stroke-width="0.75"/>
<line x1="495.1" y1="581.5" x2="495.1" y2="587" stroke="#d9d9d9" stroke-width="0.75"/>
<line x1="518" y1="581.5" x2="518" y2="587" stroke="#d9d9d9" stroke-width="0.75"/>
<line x1="540.9" y1="581.5" x2="540.9" y2="587" stroke="#d9d9d9" stroke-width="0.75"/>
<line x1="563.8" y1="581.5" x2="563.8" y2="587" stroke="#d9d9d9" stroke-width="0.75"/>
<line x1="586.7" y1="581.5" x2="586.7" y2="587" stroke="#d9d9d9" stroke-width="0.75"/>
<line x1="609.6" y1="581.5" x2="609.6" y2="587" stroke="#d9d9d9" stroke-width="0.75"/>
<line x1="632.5" y1="581.5" x2="632.5" y2="587" stroke="#d9d9d9" stroke-width="0.75"/>
<line x1="655.4" y1="581.5" x2="655.4" y2="587" stroke="#d9d9d9" stroke-width="0.75"/>
<line x1="678.3" y1="581.5" x2="678.3" y2="587" stroke="#d9d9d9" stroke-width="0.75"/>
<line x1="701.2" y1="581.5" x2="701.2" y2="587" stroke="#d9d9d9" stroke-width="0.75"/>
<line x1="724.1" y1="581.5" x2="724.1" y2="587" stroke="#d9d9d9" stroke-width="0.75"/>
<line x1="747" y1="581.5" x2="747" y2="587" stroke="#d9d9d9" stroke-width="0.75"/>
<line x1="769.9" y1="581.5" x2="769.9" y2="587" stroke="#d9d9d9" stroke-width="0.75"/>
<line x1="792.8" y1="581.5" x2="792.8" y2="587" stroke="#d9d9d9" stroke-width="0.75"/>
<line x1="815.7" y1="581.5" x2="815.7" y2="587" stroke="#d9d9d9" stroke-width="0.75"/>
<line x1="838.6" y1="581.5" x2="838.6" y2="587" stroke="#d9d9d9" stroke-width="0.75"/>
<line x1="861.5" y1="581.5" x2="861.5" y2="587" stroke="#d9d9d9" stroke-width="0.75"/>
<line x1="884.4" y1="581.5" x2="884.4" y2="587" stroke="#d9d9d9" stroke-width="0.75"/>
<line x1="907.3" y1="581.5" x2="907.3" y2="587" stroke="#d9d9d9" stroke-width="0.75"/>
<line x1="930.2" y1="581.5" x2="930.2" y2="587" stroke="#d9d9d9" stroke-width="0.75"/>
<line x1="953.1" y1="581.5" x2="953.1" y2="587" stroke="#d9d9d9" stroke-width="0.75"/>
<line x1="976" y1="581.5" x2="976" y2="587" stroke="#d9d9d9" stroke-width="0.75"/>
<line x1="998.9" y1="581.5" x2="998.9" y2="587" stroke="#d9d9d9" stroke-width="0.75"/>
<line x1="1021.8" y1="581.5" x2="1021.8" y2="587" stroke="#d9d9d9" stroke-width="0.75"/>
<line x1="1044.7" y1="581.5" x2="1044.7" y2="587" stroke="#d9d9d9" stroke-width="0.75"/>
<line x1="1067.6" y1="581.5" x2="1067.6" y2="587" stroke="#d9d9d9" stroke-width="0.75"/>
<line x1="1090.5" y1="581.5" x2="1090.5" y2="587" stroke="#d9d9d9" stroke-width="0.75"/>
<line x1="1113.4" y1="581.5" x2="1113.4" y2="587" stroke="#d9d9d9" stroke-width="0.75"/>
<line x1="1136.3" y1="581.5" x2="1136.3" y2="587" stroke="#d9d9d9" stroke-width="0.75"/>
<line x1="1159.2" y1="581.5" x2="1159.2" y2="587" stroke="#d9d9d9" stroke-width="0.75"/>
<text class="yr" x="42.5" y="591" text-anchor="end" transform="rotate(-90 42.5 591)">1970</text>
<text class="yr" x="65.4" y="591" text-anchor="end" transform="rotate(-90 65.4 591)">1971</text>
<text class="yr" x="88.3" y="591" text-anchor="end" transform="rotate(-90 88.3 591)">1972</text>
<text class="yr" x="111.2" y="591" text-anchor="end" transform="rotate(-90 111.2 591)">1973</text>
<text class="yr" x="134.1" y="591" text-anchor="end" transform="rotate(-90 134.1 591)">1974</text>
<text class="yr" x="157" y="591" text-anchor="end" transform="rotate(-90 157 591)">1975</text>
<text class="yr" x="179.9" y="591" text-anchor="end" transform="rotate(-90 179.9 591)">1976</text>
<text class="yr" x="202.8" y="591" text-anchor="end" transform="rotate(-90 202.8 591)">1977</text>
<text class="yr" x="225.7" y="591" text-anchor="end" transform="rotate(-90 225.7 591)">1978</text>
<text class="yr" x="248.6" y="591" text-anchor="end" transform="rotate(-90 248.6 591)">1979</text>
<text class="yr" x="271.5" y="591" text-anchor="end" transform="rotate(-90 271.5 591)">1980</text>
<text class="yr" x="294.4" y="591" text-anchor="end" transform="rotate(-90 294.4 591)">1981</text>
<text class="yr" x="317.3" y="591" text-anchor="end" transform="rotate(-90 317.3 591)">1982</text>
<text class="yr" x="340.2" y="591" text-anchor="end" transform="rotate(-90 340.2 591)">1983</text>
<text class="yr" x="363.1" y="591" text-anchor="end" transform="rotate(-90 363.1 591)">1984</text>
<text class="yr" x="386" y="591" text-anchor="end" transform="rotate(-90 386 591)">1985</text>
<text class="yr" x="408.9" y="591" text-anchor="end" transform="rotate(-90 408.9 591)">1986</text>
<text class="yr" x="431.8" y="591" text-anchor="end" transform="rotate(-90 431.8 591)">1987</text>
<text class="yr" x="454.7" y="591" text-anchor="end" transform="rotate(-90 454.7 591)">1988</text>
<text class="yr" x="477.6" y="591" text-anchor="end" transform="rotate(-90 477.6 591)">1989</text>
<text class="yr" x="500.5" y="591" text-anchor="end" transform="rotate(-90 500.5 591)">1990</text>
<text class="yr" x="523.4" y="591" text-anchor="end" transform="rotate(-90 523.4 591)">1991</text>
<text class="yr" x="546.3" y="591" text-anchor="end" transform="rotate(-90 546.3 591)">1992</text>
<text class="yr" x="569.2" y="591" text-anchor="end" transform="rotate(-90 569.2 591)">1993</text>
<text class="yr" x="592.1" y="591" text-anchor="end" transform="rotate(-90 592.1 591)">1994</text>
<text class="yr" x="615" y="591" text-anchor="end" transform="rotate(-90 615 591)">1995</text>
<text class="yr" x="637.9" y="591" text-anchor="end" transform="rotate(-90 637.9 591)">1996</text>
<text class="yr" x="660.8" y="591" text-anchor="end" transform="rotate(-90 660.8 591)">1997</text>
<text class="yr" x="683.7" y="591" text-anchor="end" transform="rotate(-90 683.7 591)">1998</text>
<text class="yr" x="706.6" y="591" text-anchor="end" transform="rotate(-90 706.6 591)">1999</text>
<text class="yr" x="729.5" y="591" text-anchor="end" transform="rotate(-90 729.5 591)">2000</text>
<text class="yr" x="752.4" y="591" text-anchor="end" transform="rotate(-90 752.4 591)">2001</text>
<text class="yr" x="775.3" y="591" text-anchor="end" transform="rotate(-90 775.3 591)">2002</text>
<text class="yr" x="798.2" y="591" text-anchor="end" transform="rotate(-90 798.2 591)">2003</text>
<text class="yr" x="821.1" y="591" text-anchor="end" transform="rotate(-90 821.1 591)">2004</text>
<text class="yr" x="844" y="591" text-anchor="end" transform="rotate(-90 844 591)">2005</text>
<text class="yr" x="866.9" y="591" text-anchor="end" transform="rotate(-90 866.9 591)">2006</text>
<text class="yr" x="889.8" y="591" text-anchor="end" transform="rotate(-90 889.8 591)">2007</text>
<text class="yr" x="912.7" y="591" text-anchor="end" transform="rotate(-90 912.7 591)">2008</text>
<text class="yr" x="935.6" y="591" text-anchor="end" transform="rotate(-90 935.6 591)">2009</text>
<text class="yr" x="958.5" y="591" text-anchor="end" transform="rotate(-90 958.5 591)">2010</text>
<text class="yr" x="981.4" y="591" text-anchor="end" transform="rotate(-90 981.4 591)">2011</text>
<text class="yr" x="1004.3" y="591" text-anchor="end" transform="rotate(-90 1004.3 591)">2012</text>
<text class="yr" x="1027.2" y="591" text-anchor="end" transform="rotate(-90 1027.2 591)">2013</text>
<text class="yr" x="1050.1" y="591" text-anchor="end" transform="rotate(-90 1050.1 591)">2014</text>
<text class="yr" x="1073" y="591" text-anchor="end" transform="rotate(-90 1073 591)">2015</text>
<text class="yr" x="1095.9" y="591" text-anchor="end" transform="rotate(-90 1095.9 591)">2016</text>
<text class="yr" x="1118.8" y="591" text-anchor="end" transform="rotate(-90 1118.8 591)">2017</text>
<text class="yr" x="1141.7" y="591" text-anchor="end" transform="rotate(-90 1141.7 591)">2018</text>
<text class="yr" x="1164.6" y="591" text-anchor="end" transform="rotate(-90 1164.6 591)">2019</text>
<rect x="221.7" y="297.6" width="97.9" height="40.8" rx="20.4" ry="20.4" fill="#fff" stroke="#111" stroke-width="1.3"/>
<text class="lb" x="272.1" y="323.3" text-anchor="middle">교육, 요원....</text>
<rect x="75.5" y="413.6" width="169.9" height="40.9" rx="20.4" ry="20.4" fill="#fff" stroke="#111" stroke-width="1.3"/>
<text class="lb" x="161.9" y="439.4" text-anchor="middle">가족계획, 가족계획사업....</text>
<rect x="81" y="468.6" width="152" height="41.4" rx="20.7" ry="20.7" fill="#fff" stroke="#111" stroke-width="1.3"/>
<text class="lb" x="158.5" y="494.6" text-anchor="middle">가족, 가족보건사업....</text>
<rect x="407" y="169.5" width="118" height="40.9" rx="20.5" ry="20.5" fill="#fff" stroke="#111" stroke-width="1.3"/>
<text class="lb" x="467.5" y="195.2" text-anchor="middle">의료보험, 주민....</text>
<rect x="473.3" y="259.6" width="106.1" height="40.6" rx="20.3" ry="20.3" fill="#fff" stroke="#111" stroke-width="1.3"/>
<text class="lb" x="527.9" y="285.2" text-anchor="middle">모자, 보건소....</text>
<rect x="788.5" y="95.8" width="87.5" height="40.6" rx="20.3" ry="20.3" fill="#fff" stroke="#111" stroke-width="1.3"/>
<text class="lb" x="833.8" y="121.4" text-anchor="middle">인력, 수급....</text>
<rect x="1021.4" y="32.4" width="88.3" height="40.9" rx="20.4" ry="20.4" fill="#fff" stroke="#111" stroke-width="1.3"/>
<text class="lb" x="1067" y="58.1" text-anchor="middle">출산, 여성....</text>
<rect x="1054.4" y="155.3" width="126.1" height="40.9" rx="20.4" ry="20.4" fill="#fff" stroke="#111" stroke-width="1.3"/>
<text class="lb" x="1119" y="181.1" text-anchor="middle">건강, 사회보장...</text>
<rect x="1076.7" y="287.6" width="103.8" height="40.8" rx="20.4" ry="20.4" fill="#fff" stroke="#111" stroke-width="1.3"/>
<text class="lb" x="1130.1" y="313.3" text-anchor="middle">노인, 서비스....</text>
<rect x="1082.2" y="401.1" width="94.6" height="41.6" rx="20.8" ry="20.8" fill="#fff" stroke="#111" stroke-width="1.3"/>
<text class="lb" x="1131" y="427.2" text-anchor="middle">의료, 기초....</text>
<rect x="1016.4" y="509.1" width="96" height="41.3" rx="20.6" ry="20.6" fill="#fff" stroke="#111" stroke-width="1.3"/>
<text class="lb" x="1065.9" y="535" text-anchor="middle">인구, 변동....</text>
<rect x="913.4" y="545" width="106.7" height="41.3" rx="20.6" ry="20.6" fill="#fff" stroke="#111" stroke-width="1.3"/>
<text class="lb" x="968.2" y="570.9" text-anchor="middle">국가, OECD....</text>
</svg>
</body></html>
